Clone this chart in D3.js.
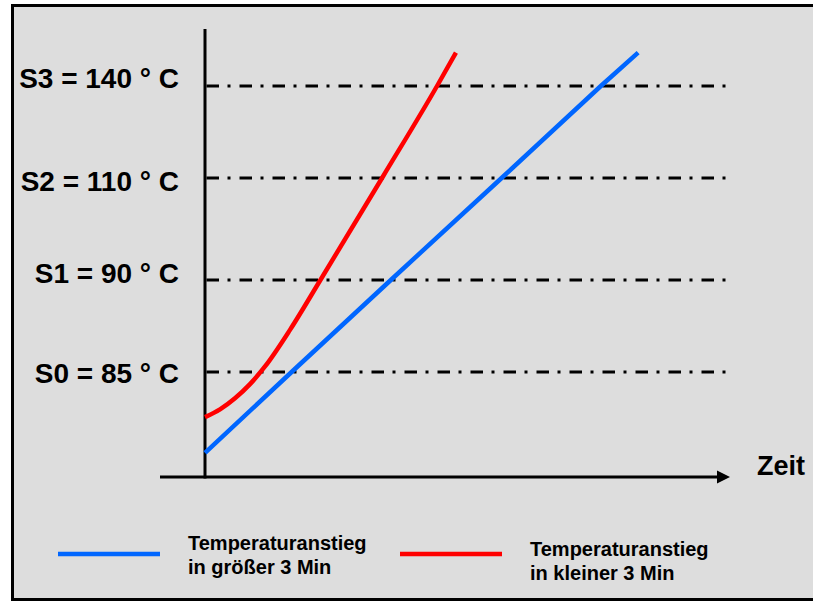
<!DOCTYPE html>
<html>
<head>
<meta charset="utf-8">
<script src="https://cdn.jsdelivr.net/npm/d3@7"></script>
<style>
  html, body { margin: 0; padding: 0; background: #ffffff; }
  svg { display: block; }
  text { font-family: "Liberation Sans", Arial, sans-serif; font-weight: bold; fill: #000; }
</style>
</head>
<body>
<script>
// ---- data ----
const thresholdNames = ["S0", "S1", "S2", "S3"];
const thresholdTemps = [85, 90, 110, 140];
const thresholdLabels = ["S0 = 85 \u00B0 C", "S1 = 90 \u00B0 C", "S2 = 110 \u00B0 C", "S3 = 140 \u00B0 C"];

// slow rise (> 3 min), blue
const slowTime = [0, 1.65, 3.54, 5.65, 7.54, 8.25];
const slowTemp = [80.6, 85, 90, 110, 140, 150.9];
// fast rise (< 3 min), red
const fastTime = [0, 0.286, 0.571, 0.857, 1.143, 1.619, 2.21, 3.39, 4.42, 4.78];
const fastTemp = [82.55, 82.97, 83.57, 84.34, 85.3, 87.29, 90.2, 110.5, 140, 150.9];

const seriesNames = ["Temperaturanstieg|in gr\u00F6\u00DFer 3 Min", "Temperaturanstieg|in kleiner 3 Min"];
const xAxisLabel = "Zeit";

// ---- layout ----
const W = 813, H = 601;
const blue = "#0066ff", red = "#ff0000";
const labelBaselineOffset = [11, 3, 13, 2];

const svg = d3.select("body").append("svg").attr("width", W).attr("height", H);

// frame
svg.append("rect").attr("x", 12.5).attr("y", 5.5).attr("width", W + 10).attr("height", 594)
  .attr("fill", "#dddddd").attr("stroke", "#000").attr("stroke-width", 3);

const x = d3.scaleLinear().domain([0, 10]).range([205, 730]);
// schematic (non-uniform) temperature axis
const y = d3.scaleLinear().domain(thresholdTemps).range([372, 280, 178, 86]);

const x0 = x(0), axisY = 477, axisTop = 29;
const xEnd = x.range()[1];

// threshold dash-dot lines
svg.append("g").selectAll("line").data(thresholdTemps).join("line")
  .attr("x1", x0 + 1.5).attr("x2", xEnd - 3)
  .attr("y1", d => y(d)).attr("y2", d => y(d))
  .attr("stroke", "#000").attr("stroke-width", 3)
  .attr("stroke-dasharray", "12.5,8.5,3,9");

// threshold labels
svg.append("g").selectAll("text").data(thresholdTemps).join("text")
  .attr("x", 179).attr("y", (d, i) => y(d) + labelBaselineOffset[i])
  .attr("text-anchor", "end").attr("font-size", 28)
  .text((d, i) => thresholdLabels[i]);

// axes
svg.append("line").attr("x1", x0).attr("x2", x0).attr("y1", axisTop).attr("y2", axisY + 1.5)
  .attr("stroke", "#000").attr("stroke-width", 3);
svg.append("line").attr("x1", x0 - 45).attr("x2", xEnd - 10).attr("y1", axisY).attr("y2", axisY)
  .attr("stroke", "#000").attr("stroke-width", 3);
svg.append("path")
  .attr("d", `M${xEnd},${axisY} L${xEnd - 13},${axisY - 6.5} L${xEnd - 13},${axisY + 6.5} Z`)
  .attr("fill", "#000");
svg.append("text").attr("x", 757).attr("y", axisY - 2).attr("font-size", 27).text(xAxisLabel);

// series
const slow = slowTime.map((t, i) => [t, slowTemp[i]]);
const fast = fastTime.map((t, i) => [t, fastTemp[i]]);

svg.append("path").datum(slow)
  .attr("d", d3.line().x(d => x(d[0])).y(d => y(d[1])))
  .attr("fill", "none").attr("stroke", blue).attr("stroke-width", 4.5);
svg.append("path").datum(fast)
  .attr("d", d3.line().x(d => x(d[0])).y(d => y(d[1])).curve(d3.curveMonotoneX))
  .attr("fill", "none").attr("stroke", red).attr("stroke-width", 4.5);

// legend
const legendItems = [
  { color: blue, x1: 58, x2: 160, lineY: 554, tx: 188, ty: 550 },
  { color: red, x1: 400, x2: 502, lineY: 554, tx: 530, ty: 556 }
];
legendItems.forEach((it, i) => {
  svg.append("line").attr("x1", it.x1).attr("x2", it.x2).attr("y1", it.lineY).attr("y2", it.lineY)
    .attr("stroke", it.color).attr("stroke-width", 4.5);
  const parts = seriesNames[i].split("|");
  const t = svg.append("text").attr("x", it.tx).attr("y", it.ty).attr("font-size", 20);
  parts.forEach((p, j) => {
    t.append("tspan").attr("x", it.tx).attr("dy", j === 0 ? 0 : 24).text(p);
  });
});
</script>
</body>
</html>
